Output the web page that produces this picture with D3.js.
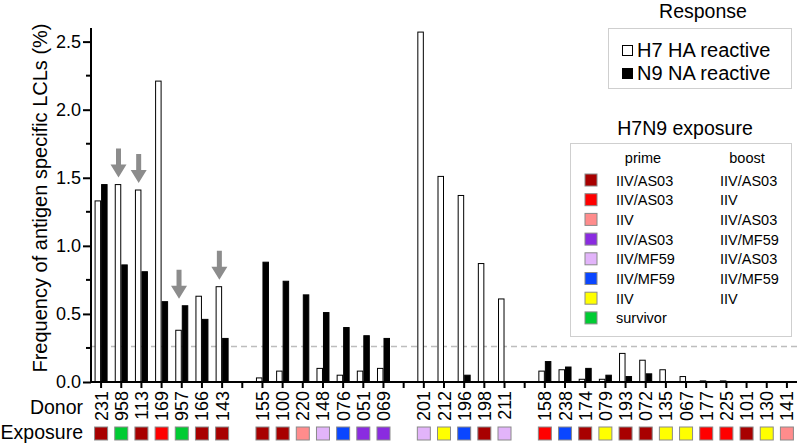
<!DOCTYPE html>
<html>
<head>
<meta charset="utf-8">
<script src="https://cdn.jsdelivr.net/npm/d3@7"></script>
<style>
  body { margin: 0; background: #fff; }
  svg { font-family: "Liberation Sans", Arial, sans-serif; }
</style>
</head>
<body>
<div id="chart"></div>
<script>
// Donors in plotting order, "" marks the empty slot between groups
const donors = ["231","958","113","169","957","166","143","",
  "155","100","220","148","076","051","069","",
  "201","212","196","198","211","",
  "158","238","174","079","193","072","135","067","177","225","101","130","141"];

// H7 HA reactive (white) and N9 NA reactive (black), % of LCLs
const haValues = [1.33,1.45,1.41,2.21,0.38,0.63,0.70,null,
  0.03,0.08,0,0.10,0.05,0.08,0.10,null,
  2.57,1.51,1.37,0.87,0.61,null,
  0.08,0.09,0.02,0.02,0.21,0.16,0.09,0.04,0.008,0.008,0,0,0];
const naValues = [1.45,0.86,0.81,0.59,0.56,0.46,0.32,null,
  0.88,0.74,0.64,0.51,0.40,0.34,0.32,null,
  0,0,0.05,0,0,null,
  0.15,0.11,0.10,0.05,0.04,0.06,0,0,0,0,0,0,0];

// exposure group index per donor (into the legend lists below)
const exposure = [0,7,0,1,7,0,0,null,
  0,0,2,4,5,3,3,null,
  4,6,5,0,4,null,
  1,5,0,6,0,0,6,6,1,1,0,6,2];

const primes = ["IIV/AS03","IIV/AS03","IIV","IIV/AS03","IIV/MF59","IIV/MF59","IIV","survivor"];
const boosts = ["IIV/AS03","IIV","IIV/AS03","IIV/MF59","IIV/AS03","IIV/MF59","IIV",""];
const exposureColors = ["#a80000","#ff0000","#ff8c8c","#8a2be0","#e2b4fa","#0a46ff","#ffff00","#00cc33"];

const yTicks = [0, 0.5, 1.0, 1.5, 2.0, 2.5];
const threshold = 0.26;
const arrowDonors = ["958","113","957","143"];

const W = 800, H = 446;
const plot = { left: 91, right: 797, top: 28, bottom: 382 };

const svg = d3.select("#chart").append("svg")
  .attr("width", W).attr("height", H);

const x = d3.scaleBand()
  .domain(d3.range(donors.length))
  .range([plot.left, plot.right])
  .padding(0);

const y = d3.scaleLinear()
  .domain([0, 2.6])
  .range([plot.bottom, plot.top]);

const cx = i => x(i) + x.bandwidth() / 2;
const barW = 6.5;

// threshold line
svg.append("line")
  .attr("x1", plot.left).attr("x2", plot.right)
  .attr("y1", y(threshold)).attr("y2", y(threshold))
  .attr("stroke", "#bdbdbd").attr("stroke-width", 1.5)
  .attr("stroke-dasharray", "6,4");

// bars
const slots = donors.map((d, i) => ({ i, donor: d, ha: haValues[i], na: naValues[i] }))
  .filter(d => d.donor !== "");

svg.append("g").selectAll("rect")
  .data(slots.filter(d => d.ha > 0))
  .join("rect")
  .attr("x", d => cx(d.i) - barW + 0.5)
  .attr("width", barW - 1)
  .attr("y", d => y(d.ha))
  .attr("height", d => y(0) - y(d.ha))
  .attr("fill", "#fff").attr("stroke", "#000").attr("stroke-width", 1);

svg.append("g").selectAll("rect")
  .data(slots.filter(d => d.na > 0))
  .join("rect")
  .attr("x", d => cx(d.i) + 0.5)
  .attr("width", barW - 1)
  .attr("y", d => y(d.na))
  .attr("height", d => y(0) - y(d.na))
  .attr("fill", "#000").attr("stroke", "#000").attr("stroke-width", 1);

// grey arrows over highlighted donors
const arrow = "M-2.5,-29 L2.5,-29 L2.5,-13 L8,-13 L0,0 L-8,-13 L-2.5,-13 Z";
svg.append("g").selectAll("path")
  .data(slots.filter(d => arrowDonors.includes(d.donor)))
  .join("path")
  .attr("d", arrow)
  .attr("fill", "#8c8c8c")
  .attr("transform", d => `translate(${cx(d.i) - barW / 2 + 0.5},${y(Math.max(d.ha, d.na)) - 7})`);

// y axis
const yAxis = d3.axisLeft(y).tickValues(yTicks).tickFormat(d3.format(".1f"))
  .tickSize(8).tickPadding(2);
const gy = svg.append("g")
  .attr("transform", `translate(${plot.left},0)`)
  .call(yAxis);
gy.select(".domain").attr("stroke-width", 2).attr("d", `M0,${plot.top}V${plot.bottom}`);
gy.selectAll(".tick line").attr("stroke-width", 2);
gy.selectAll(".tick text").attr("font-size", 18).attr("fill", "#000").attr("font-family", "Liberation Sans, Arial, sans-serif");

// minor ticks
svg.append("g").selectAll("line")
  .data(d3.range(0.25, 2.6, 0.5))
  .join("line")
  .attr("x1", plot.left - 5).attr("x2", plot.left)
  .attr("y1", d => y(d)).attr("y2", d => y(d))
  .attr("stroke", "#000").attr("stroke-width", 2);

// x axis
const xAxis = d3.axisBottom(x).tickFormat(() => "").tickSize(6);
const gx = svg.append("g")
  .attr("transform", `translate(0,${plot.bottom})`)
  .call(xAxis);
gx.select(".domain").attr("stroke-width", 2).attr("d", `M${plot.left},0H${plot.right}`);
gx.selectAll(".tick line").attr("stroke-width", 2);

// donor labels
svg.append("g").selectAll("text")
  .data(slots)
  .join("text")
  .attr("transform", d => `translate(${cx(d.i) + 6.5},${plot.bottom + 9}) rotate(-90)`)
  .attr("text-anchor", "end")
  .attr("font-size", 18)
  .text(d => d.donor);

// exposure squares
svg.append("g").selectAll("rect")
  .data(slots)
  .join("rect")
  .attr("x", d => cx(d.i) - 6.5)
  .attr("y", 427)
  .attr("width", 13).attr("height", 13)
  .attr("fill", d => exposureColors[exposure[d.i]])
  .attr("stroke", "#8a8a8a").attr("stroke-width", 1);

// row titles
svg.append("text").attr("x", 83).attr("y", 414).attr("text-anchor", "end")
  .attr("font-size", 19.5).text("Donor");
svg.append("text").attr("x", 83).attr("y", 439).attr("text-anchor", "end")
  .attr("font-size", 19.5).text("Exposure");

// y axis title
svg.append("text")
  .attr("transform", `translate(47,${(23 + 373) / 2}) rotate(-90)`)
  .attr("text-anchor", "middle")
  .attr("font-size", 20)
  .text("Frequency of antigen specific LCLs (%)");

// Response legend
svg.append("text").attr("x", 703).attr("y", 18).attr("text-anchor", "middle")
  .attr("font-size", 19.5).text("Response");
svg.append("rect").attr("x", 608.5).attr("y", 28.5).attr("width", 183).attr("height", 60)
  .attr("fill", "none").attr("stroke", "#cfcfcf").attr("stroke-width", 1);
const respItems = [{ label: "H7 HA reactive", fill: "#fff" }, { label: "N9 NA reactive", fill: "#000" }];
const resp = svg.append("g").selectAll("g")
  .data(respItems)
  .join("g")
  .attr("transform", (d, i) => `translate(622,${50 + i * 23})`);
resp.append("rect").attr("x", 0.5).attr("y", -4.5).attr("width", 10).attr("height", 10)
  .attr("fill", d => d.fill).attr("stroke", "#000").attr("stroke-width", 1);
resp.append("text").attr("x", 15).attr("y", 7).attr("font-size", 20).text(d => d.label);

// Exposure legend
svg.append("text").attr("x", 685).attr("y", 135).attr("text-anchor", "middle")
  .attr("font-size", 19.5).text("H7N9 exposure");
svg.append("rect").attr("x", 570.5).attr("y", 143.5).attr("width", 221).attr("height", 193)
  .attr("fill", "none").attr("stroke", "#cfcfcf").attr("stroke-width", 1);
svg.append("text").attr("x", 643).attr("y", 163).attr("text-anchor", "middle")
  .attr("font-size", 14.5).text("prime");
svg.append("text").attr("x", 747).attr("y", 163).attr("text-anchor", "middle")
  .attr("font-size", 14.5).text("boost");
const expo = svg.append("g").selectAll("g")
  .data(primes.map((p, i) => ({ prime: p, boost: boosts[i], color: exposureColors[i] })))
  .join("g")
  .attr("transform", (d, i) => `translate(0,${180 + i * 19.7})`);
expo.append("rect").attr("x", 585).attr("y", -6).attr("width", 12).attr("height", 12)
  .attr("fill", d => d.color).attr("stroke", "#8a8a8a").attr("stroke-width", 1);
expo.append("text").attr("x", 616).attr("y", 5.5).attr("font-size", 14.5).text(d => d.prime);
expo.append("text").attr("x", 720).attr("y", 5.5).attr("font-size", 14.5).text(d => d.boost);
</script>
</body>
</html>
